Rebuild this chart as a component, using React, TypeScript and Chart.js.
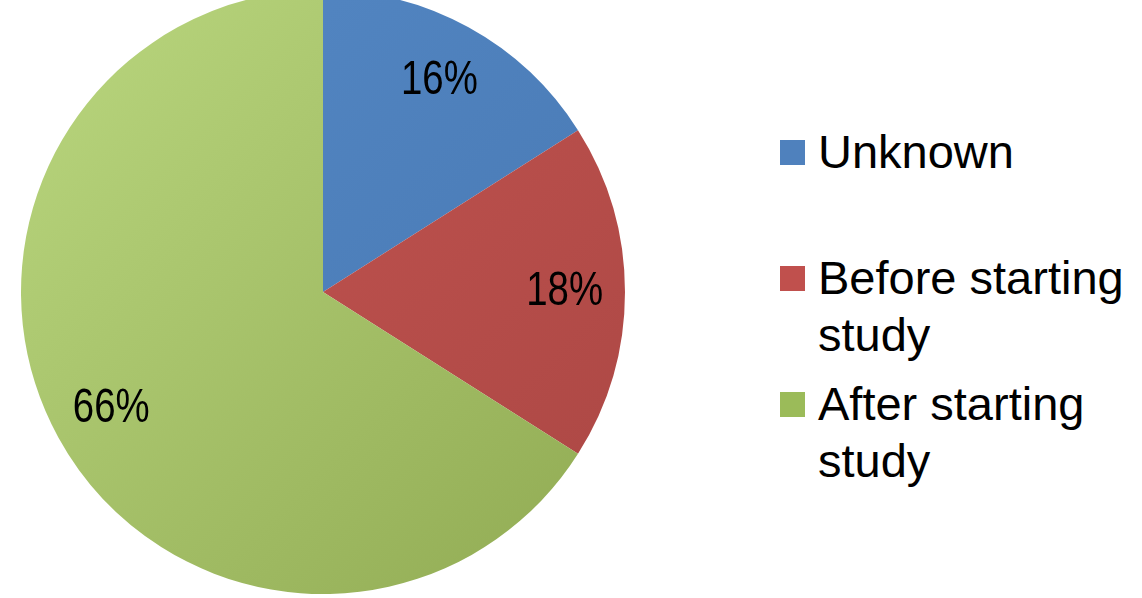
import React, { useEffect, useRef } from "react";
import { Chart, registerables } from "chart.js";

Chart.register(...registerables);

const categories: string[] = ["Unknown", "Before starting study", "After starting study"];
const values: number[] = [16, 18, 66];
const baseColors: string[] = ["#4F81BD", "#C0504D", "#9BBB59"];
const lightColors: string[] = ["#5589C6", "#C65652", "#BAD77F"];
const darkColors: string[] = ["#4676B0", "#AB4744", "#90AA52"];

const LABEL_FONT = '"Liberation Sans Narrow", "Liberation Sans", Arial, sans-serif';
const LEGEND_FONT = '"Liberation Sans", Arial, sans-serif';

const percentLabels = {
  id: "percentLabels",
  afterDatasetsDraw(chart: any) {
    const { ctx } = chart;
    const meta = chart.getDatasetMeta(0);
    meta.data.forEach((arc: any, i: number) => {
      const p = arc.getProps(["x", "y", "startAngle", "endAngle", "outerRadius"], true);
      const mid = (p.startAngle + p.endAngle) / 2;
      const r = p.outerRadius * 0.8;
      const x = p.x + Math.cos(mid) * r;
      const y = p.y + Math.sin(mid) * r;
      ctx.save();
      ctx.fillStyle = "#000000";
      ctx.font = `48px ${LABEL_FONT}`;
      ctx.textAlign = "center";
      ctx.textBaseline = "middle";
      ctx.translate(x, y);
      ctx.scale(0.8, 1);
      ctx.fillText(`${values[i]}%`, 0, 0);
      ctx.restore();
    });
  },
};

export default function App() {
  const canvasRef = useRef<HTMLCanvasElement | null>(null);

  useEffect(() => {
    if (!canvasRef.current) return;
    const chart = new Chart(canvasRef.current, {
      type: "pie",
      data: {
        labels: categories,
        datasets: [
          {
            data: values,
            backgroundColor: (c: any) => {
              const chartObj = c.chart;
              const area = chartObj.chartArea;
              const i = c.dataIndex;
              if (!area) return baseColors[i];
              const g = chartObj.ctx.createLinearGradient(area.left, area.top, area.right, area.bottom);
              g.addColorStop(0, lightColors[i]);
              g.addColorStop(1, darkColors[i]);
              return g;
            },
            borderWidth: 0,
          },
        ],
      },
      options: {
        responsive: true,
        maintainAspectRatio: false,
        animation: false,
        layout: { padding: 0 },
        plugins: {
          legend: { display: false },
          tooltip: { enabled: false },
        },
      },
      plugins: [percentLabels],
    });
    return () => chart.destroy();
  }, []);

  return (
    <div
      style={{
        position: "fixed",
        left: 0,
        top: 0,
        width: 1142,
        height: 598,
        overflow: "hidden",
        background: "#ffffff",
      }}
    >
      <div style={{ position: "absolute", left: 21, top: -10, width: 604, height: 604 }}>
        <canvas ref={canvasRef} />
      </div>
      <div
        style={{
          position: "absolute",
          left: 780,
          top: 123,
          width: 360,
          fontFamily: LEGEND_FONT,
          fontSize: 47,
          lineHeight: "57px",
          color: "#000000",
        }}
      >
        {categories.map((name, i) => (
          <div key={name} style={{ position: "relative", height: 126 }}>
            <div
              style={{
                position: "absolute",
                left: 0,
                top: 17,
                width: 25,
                height: 25,
                background: baseColors[i],
              }}
            />
            <div style={{ position: "absolute", left: 38, top: 0, width: 322 }}>{name}</div>
          </div>
        ))}
      </div>
    </div>
  );
}
